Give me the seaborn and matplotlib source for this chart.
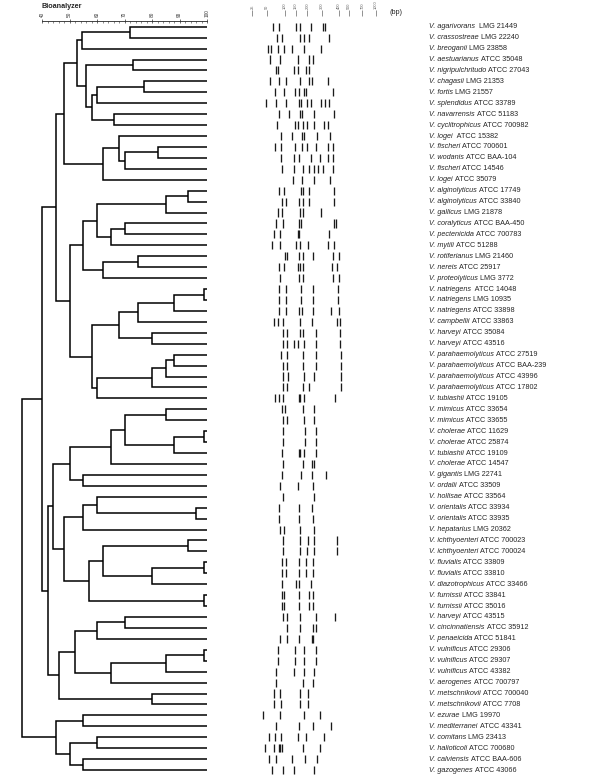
import numpy as np
import pandas as pd
import matplotlib
matplotlib.use("Agg")
import matplotlib.pyplot as plt
import seaborn as sns
from matplotlib.offsetbox import TextArea, HPacker, AnnotationBbox

# taxa, top to bottom
SPECIES = [
    "V. agarivorans", "V. crassostreae", "V. breoganii", "V. aestuarianus",
    "V. nigripulchritudo", "V. chagasii", "V. fortis", "V. splendidus",
    "V. navarrensis", "V. cyclitrophicus", "V. logei", "V. fischeri",
    "V. wodanis", "V. fischeri", "V. logei", "V. alginolyticus",
    "V. alginolyticus", "V. gallicus", "V. coralyticus", "V. pectenicida",
    "V. mytili", "V. rotiferianus", "V. nereis", "V. proteolyticus",
    "V. natriegens", "V. natriegens", "V. natriegens", "V. campbellii",
    "V. harveyi", "V. harveyi", "V. parahaemolyticus", "V. parahaemolyticus",
    "V. parahaemolyticus", "V. parahaemolyticus", "V. tubiashii", "V. mimicus",
    "V. mimicus", "V. cholerae", "V. cholerae", "V. tubiashii",
    "V. cholerae", "V. gigantis", "V. ordalii", "V. hollisae",
    "V. orientalis", "V. orientalis", "V. hepatarius", "V. ichthyoenteri",
    "V. ichthyoenteri", "V. fluvialis", "V. fluvialis", "V. diazotrophicus",
    "V. furnissii", "V. furnissii", "V. harveyi", "V. cincinnatiensis",
    "V. penaeicida", "V. vulnificus", "V. vulnificus", "V. vulnificus",
    "V. aerogenes", "V. metschnikovii", "V. metschnikovii", "V. ezurae",
    "V. mediterranei", "V. comitans", "V. halioticoli", "V. calviensis",
    "V. gazogenes",
]
STRAINS = [
    " LMG 21449", "LMG 22240", "LMG 23858", "ATCC 35048",
    "ATCC 27043", "LMG 21353", "LMG 21557", "ATCC 33789",
    "ATCC 51183", "ATCC 700982", " ATCC 15382", "ATCC 700601",
    "ATCC BAA-104", "ATCC 14546", "ATCC 35079", "ATCC 17749",
    "ATCC 33840", "LMG 21878", "ATCC BAA-450", "ATCC 700783",
    "ATCC 51288", "LMG 21460", "ATCC 25917", "LMG 3772",
    " ATCC 14048", "LMG 10935", "ATCC 33898", "ATCC 33863",
    "ATCC 35084", "ATCC 43516", "ATCC 27519", "ATCC BAA-239",
    "ATCC 43996", "ATCC 17802", "ATCC 19105", "ATCC 33654",
    "ATCC 33655", "ATCC 11629", "ATCC 25874", "ATCC 19109",
    "ATCC 14547", "LMG 22741", "ATCC 33509", "ATCC 33564",
    "ATCC 33934", "ATCC 33935", "LMG 20362", "ATCC 700023",
    "ATCC 700024", "ATCC 33809", "ATCC 33810", "ATCC 33466",
    "ATCC 33841", "ATCC 35016", "ATCC 43515", "ATCC 35912",
    "ATCC 51841", "ATCC 29306", "ATCC 29307", "ATCC 43382",
    "ATCC 700797", "ATCC 700040", "ATCC 7708", "LMG 19970",
    "ATCC 43341", "LMG 23413", "ATCC 700680", "ATCC BAA-606",
    "ATCC 43066",
]

# band positions in the gel lane (relative migration units)
BANDS = [
    [32.5, 39, 55.5, 60, 70.5, 82.5, 85],
    [36.5, 41.5, 60, 64, 69, 89],
    [27.5, 30.5, 37.5, 43.5, 51.5, 64, 80.5],
    [30, 40, 57.5, 69, 72.5],
    [35.5, 37.5, 54, 57.5, 65.5, 68.5],
    [30, 39, 45.5, 60, 69, 71.5, 87.5],
    [35, 44, 55, 59, 64, 66, 92.5],
    [26, 36, 45.5, 59, 61, 66.5, 70.5, 80.5, 85, 88.5],
    [39, 48.5, 60, 61.5, 73.5, 94],
    [36.5, 55, 57.5, 62.5, 66.5, 73.5, 83.5, 87.5],
    [40.5, 51.5, 61.5, 64, 76.5, 90],
    [35, 40.5, 55, 61.5, 66.5, 75.5, 87.5, 92.5],
    [40.5, 54, 58.5, 70.5, 80, 87.5, 92.5],
    [41.5, 54, 62.5, 69, 73.5, 77.5, 82.5, 92.5],
    [52.5, 61.5, 74, 90],
    [39, 43.5, 60.5, 62.5, 69, 94],
    [41.5, 45.5, 59, 62.5, 69, 94],
    [37.5, 41.5, 60, 62.5, 80.5],
    [36, 42.5, 59, 60.5, 94, 96],
    [33.5, 40, 57.5, 59, 88.5],
    [31.5, 40, 55.5, 60, 67.5, 87.5, 94],
    [44.5, 46.5, 59, 62.5, 72.5, 92.5, 99],
    [39, 43.5, 57.5, 60, 62.5, 91.5, 96.5],
    [40, 58.5, 62.5, 92.5, 99],
    [39, 45.5, 60.5, 72.5, 97.5],
    [39, 45.5, 60.5, 72.5, 97.5],
    [39, 45.5, 58.5, 61.5, 72.5, 90.5, 99],
    [33.5, 37.5, 42.5, 59.5, 71.5, 96.5, 100],
    [42.5, 46.5, 60, 62.5, 75.5, 100],
    [42.5, 46.5, 54, 57.5, 63.5, 75.5, 100],
    [41, 46.5, 62.5, 75.5, 100.5],
    [42.5, 46.5, 62.5, 75.5, 100.5],
    [42.5, 47.5, 63.5, 74, 100.5],
    [42.5, 46.5, 62.5, 69, 100.5],
    [34.5, 38.5, 42.5, 58.5, 60, 63.5, 95],
    [41.5, 45, 62.5, 74],
    [42.5, 46.5, 63.5, 74],
    [42.5, 65, 75.5],
    [42.5, 65, 75.5],
    [41.5, 58.5, 60, 63.5, 75.5],
    [42.5, 62.5, 71.5, 74],
    [41.5, 61, 71.5, 85.5],
    [40, 57.5, 72.5],
    [42.5, 74],
    [39, 58.5, 71.5],
    [39, 58.5, 72.5],
    [40, 44, 59.5, 74],
    [42.5, 59.5, 67.5, 74, 96.5],
    [42.5, 59.5, 66.5, 74, 96.5],
    [41.5, 45.5, 58.5, 66, 72.5],
    [41.5, 45.5, 58.5, 66, 72.5],
    [41.5, 55.5, 58.5, 71],
    [41.5, 43.5, 58.5, 69, 72.5],
    [41.5, 43.5, 58.5, 69, 72.5],
    [42.5, 46.5, 59.5, 75.5, 95],
    [46.5, 59.5, 72.5, 75.5],
    [40, 46.5, 58.5, 71.5, 72.5],
    [37.5, 54.5, 63.5, 75.5],
    [37.5, 54.5, 63.5, 75.5],
    [36, 53.5, 63.5, 74],
    [36, 62.5, 72.5],
    [33.5, 40, 60, 67.5],
    [33.5, 41, 60, 67.5],
    [22.5, 40, 63.5, 79.5],
    [36, 58.5, 72.5, 91],
    [28.5, 35, 41, 57.5, 66, 83.5],
    [24.5, 33.5, 38.5, 40, 41.5, 62.5, 79.5],
    [28.5, 36, 51.5, 65, 76.5],
    [31.5, 42.5, 53.5, 74],
]

# size marker ladder shown above the gel
LADDER_POS = [12.3, 26.7, 45, 56, 67.3, 82.3, 99.3, 109.3, 122.3, 135.7]
LADDER_BP = ["25", "50", "100", "150", "200", "300", "400", "500", "700", "1000"]

# UPGMA tree: (left, right, similarity %), leaves are row numbers
TOP = (
    (((0, 1, 72), 2, 54.5),
     ((3, 4, 73), (((5, 6, 77), 7, 60), (8, 9, 66), 58), 56), 52.7),
    ((((11, 12, 82), 13, 70), 10, 68), 14, 62), 48)
MID = (
    ((((15, 16, 93), 17, 85), ((18, 19, 70), 20, 65), 60), ((21, 22, 75), 23, 62), 55),
    (((((24, 25, 99), 26, 88), 27, 75), (28, 29, 80), 68),
     ((((30, 31, 88), 32, 85), 33, 80), 34, 60), 58), 50)
LOW = (
    (((((35, 36, 85), ((37, 38, 99), 39, 88), 70), 40, 65), (41, 42, 55), 50),
     (((43, (44, 45, 96), 60), 46, 55), (((47, 48, 93), ((49, 50, 99), 51, 80), 62),
                                         (52, 53, 99), 57), 48), 44),
    ((((54, 55, 70), 56, 60), (((57, 58, 99), 59, 85), 60, 65), 52), (61, 62, 80), 46), 42)
BOTTOM = ((63, 64, 55), ((65, 66, 60), (67, 68, 55), 50), 45)
TREE = ((((TOP, MID, 45), LOW, 40), BOTTOM, 32.7))

FS = 5.2
N = len(SPECIES)


def draw_node(ax, node):
    if isinstance(node, int):
        return float(node), 100.0
    left, right, sim = node
    y1, s1 = draw_node(ax, left)
    y2, s2 = draw_node(ax, right)
    ax.plot([s1, sim, sim, s2], [y1, y1, y2, y2], color="black", lw=1.1,
            solid_capstyle="butt", solid_joinstyle="miter")
    return (y1 + y2) / 2, sim


def main():
    sns.set_style("white")
    plt.rcParams["font.family"] = ["Liberation Sans", "DejaVu Sans"]

    fig = plt.figure(figsize=(6, 7.76), dpi=100)
    H = 776.0
    top_px, bot_px = 20.7, 775.5
    ylim = (N - 0.5, -0.55)
    ax_h = (bot_px - top_px) / H
    ax_b = (H - bot_px) / H

    # dendrogram
    ax_d = fig.add_axes([14.5 / 600, ax_b, 198 / 600, ax_h])
    ax_d.set_xlim(30, 102)
    ax_d.set_ylim(*ylim)
    draw_node(ax_d, TREE)
    for side in ["left", "right", "bottom"]:
        ax_d.spines[side].set_visible(False)
    ax_d.spines["top"].set_linewidth(0.6)
    ax_d.spines["top"].set_bounds(40, 100)
    ax_d.xaxis.tick_top()
    ax_d.set_xticks(np.arange(40, 101, 10))
    ax_d.set_xticks(np.arange(40, 101, 2), minor=True)
    ax_d.tick_params(axis="x", which="major", top=True, direction="inout", length=3,
                     width=0.5, labelsize=3.4, labelrotation=90, pad=1.2, colors="#333")
    ax_d.tick_params(axis="x", which="minor", top=True, direction="in", length=1.5,
                     width=0.4, colors="#333")
    ax_d.set_yticks([])
    ax_d.set_xlabel("")
    fig.text(41.5 / 600, 1 - 8 / H, "Bioanalyzer", fontsize=FS, fontweight="bold",
             va="baseline", ha="left")

    # gel lanes
    ax_g = fig.add_axes([240 / 600, ax_b, 140 / 600, ax_h])
    ax_g.set_xlim(0, 140)
    ax_g.set_ylim(*ylim)
    ax_g.axis("off")
    bands = pd.DataFrame([(i, b) for i, row in enumerate(BANDS) for b in row],
                         columns=["row", "pos"])
    ax_g.vlines(bands["pos"], bands["row"] - 0.37, bands["row"] + 0.37,
                color="#1a1a1a", lw=0.95)

    trans = ax_g.get_xaxis_transform()
    span = bot_px - top_px
    for pos, bp in zip(LADDER_POS, LADDER_BP):
        ax_g.vlines(pos, 1 + 4.5 / span, 1 + 11 / span,
                    transform=trans, color="#666", lw=0.5, clip_on=False)
        ax_g.annotate(bp, xy=(pos, 1), xycoords=trans, xytext=(0, 8.4),
                      textcoords="offset points", rotation=90, ha="center",
                      va="bottom", fontsize=2.9, color="#666", annotation_clip=False)
    fig.text(389 / 600, 1 - 14 / H, "(bp)", fontsize=FS, va="baseline", ha="left")

    # strain labels
    for i, (sp, st) in enumerate(zip(SPECIES, STRAINS)):
        box = HPacker(children=[
            TextArea(sp, textprops=dict(fontsize=FS, fontstyle="italic")),
            TextArea(st, textprops=dict(fontsize=FS)),
        ], align="baseline", pad=0, sep=1.6)
        ab = AnnotationBbox(box, (189, i), xycoords="data", box_alignment=(0, 0.5),
                            frameon=False, pad=0, annotation_clip=False)
        ax_g.add_artist(ab)

    fig.savefig("out.png", dpi=100)
    plt.close(fig)


if __name__ == "__main__":
    main()
